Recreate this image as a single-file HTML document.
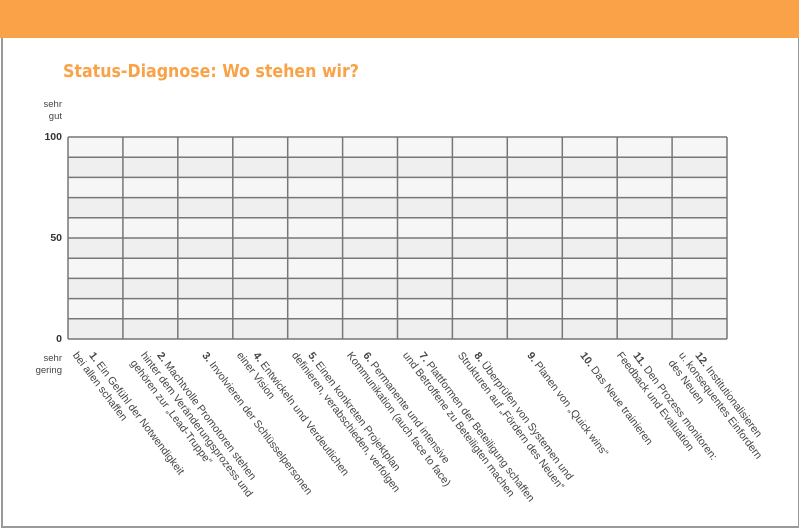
<!DOCTYPE html>
<html><head><meta charset="utf-8"><style>
body{margin:0;width:799px;height:530px;background:#fff;position:relative;overflow:hidden;font-family:"Liberation Sans",sans-serif}
.hdr{position:absolute;left:0;top:0;width:799px;height:38px;background:#f9a247}
.fr{position:absolute;left:1px;top:38px;width:795px;height:488px;border-left:2px solid #999;border-right:2px solid #999;border-bottom:2px solid #999}
h1{position:absolute;left:63px;top:62px;margin:0;font-size:17.6px;font-weight:bold;color:#f9a247;font-family:"DejaVu Sans Condensed","Liberation Sans",sans-serif}
.ax{position:absolute;font-size:9.5px;color:#444;text-align:right}
.n{font-size:10.5px;font-weight:bold;color:#333}
.lab{position:absolute;top:350px;transform-origin:0 0;transform:rotate(53deg);font-size:10.7px;line-height:13px;color:#444;white-space:nowrap}
.lab div:nth-child(n+2){margin-left:-10px}
</style></head><body>
<div class="hdr"></div><div class="fr"></div>
<h1>Status-Diagnose: Wo stehen wir?</h1>
<div class="ax" style="left:30px;top:99px;width:32px;line-height:12px">sehr<br>gut</div>
<div class="ax n" style="left:30px;top:131px;width:32px">100</div>
<div class="ax n" style="left:30px;top:232px;width:32px">50</div>
<div class="ax n" style="left:30px;top:333px;width:32px">0</div>
<div class="ax" style="left:20px;top:353px;width:42px;line-height:12px">sehr<br>gering</div>
<svg style="position:absolute;left:0;top:0" width="799" height="530">
<rect x="68" y="137" width="659" height="20.2" fill="#f6f6f7"/>
<rect x="68" y="157.2" width="659" height="20.2" fill="#efefef"/>
<rect x="68" y="177.4" width="659" height="20.2" fill="#f6f6f7"/>
<rect x="68" y="197.6" width="659" height="20.2" fill="#efefef"/>
<rect x="68" y="217.8" width="659" height="20.2" fill="#f6f6f7"/>
<rect x="68" y="238" width="659" height="20.2" fill="#efefef"/>
<rect x="68" y="258.2" width="659" height="20.2" fill="#f6f6f7"/>
<rect x="68" y="278.4" width="659" height="20.2" fill="#efefef"/>
<rect x="68" y="298.6" width="659" height="20.2" fill="#f6f6f7"/>
<rect x="68" y="318.8" width="659" height="20.2" fill="#efefef"/>
<g stroke="#777" stroke-width="1.5">
<line x1="68" x2="727" y1="137" y2="137"/><line x1="68" x2="727" y1="157.2" y2="157.2"/>
<line x1="68" x2="727" y1="177.4" y2="177.4"/><line x1="68" x2="727" y1="197.6" y2="197.6"/>
<line x1="68" x2="727" y1="217.8" y2="217.8"/><line x1="68" x2="727" y1="238" y2="238"/>
<line x1="68" x2="727" y1="258.2" y2="258.2"/><line x1="68" x2="727" y1="278.4" y2="278.4"/>
<line x1="68" x2="727" y1="298.6" y2="298.6"/><line x1="68" x2="727" y1="318.8" y2="318.8"/>
<line x1="68" x2="727" y1="339" y2="339"/>
<line x1="68" x2="68" y1="137" y2="339"/><line x1="122.9" x2="122.9" y1="137" y2="339"/>
<line x1="177.8" x2="177.8" y1="137" y2="339"/><line x1="232.8" x2="232.8" y1="137" y2="339"/>
<line x1="287.7" x2="287.7" y1="137" y2="339"/><line x1="342.6" x2="342.6" y1="137" y2="339"/>
<line x1="397.5" x2="397.5" y1="137" y2="339"/><line x1="452.4" x2="452.4" y1="137" y2="339"/>
<line x1="507.3" x2="507.3" y1="137" y2="339"/><line x1="562.3" x2="562.3" y1="137" y2="339"/>
<line x1="617.2" x2="617.2" y1="137" y2="339"/><line x1="672.1" x2="672.1" y1="137" y2="339"/>
<line x1="727" x2="727" y1="137" y2="339"/>
</g>
</svg>
<div class="lab" style="left:96px"><div><b>1.</b> Ein Gefühl der Notwendigkeit</div><div>bei allen schaffen</div></div>
<div class="lab" style="left:164px"><div><b>2.</b> Machtvolle Promotoren stehen</div><div>hinter dem Veränderungsprozess und</div><div>gehören zur „Lead-Truppe“</div></div>
<div class="lab" style="left:209px"><div><b>3.</b> Involvieren der Schlüsselpersonen</div></div>
<div class="lab" style="left:260px"><div><b>4.</b> Entwickeln und Verdeutlichen</div><div>einer Vision</div></div>
<div class="lab" style="left:315px"><div><b>5.</b> Einen konkreten Projektplan</div><div>definieren, verabschieden, verfolgen</div></div>
<div class="lab" style="left:370px"><div><b>6.</b> Permanente und intensive</div><div>Kommunikation (auch face to face)</div></div>
<div class="lab" style="left:426px"><div><b>7.</b> Plattformen der Beteiligung schaffen</div><div>und Betroffene zu Beteiligten machen</div></div>
<div class="lab" style="left:481px"><div><b>8.</b> Überprüfen von Systemen und</div><div>Strukturen auf „Fördern des Neuen“</div></div>
<div class="lab" style="left:534px"><div><b>9.</b> Planen von „Quick wins“</div></div>
<div class="lab" style="left:587px"><div><b>10.</b> Das Neue trainieren</div></div>
<div class="lab" style="left:640px"><div><b>11.</b> Den Prozess monitoren:</div><div>Feedback und Evaluation</div></div>
<div class="lab" style="left:702px"><div><b>12.</b> Institutionalisieren</div><div>u. konsequentes Einfordern</div><div>des Neuen</div></div>
</body></html>
